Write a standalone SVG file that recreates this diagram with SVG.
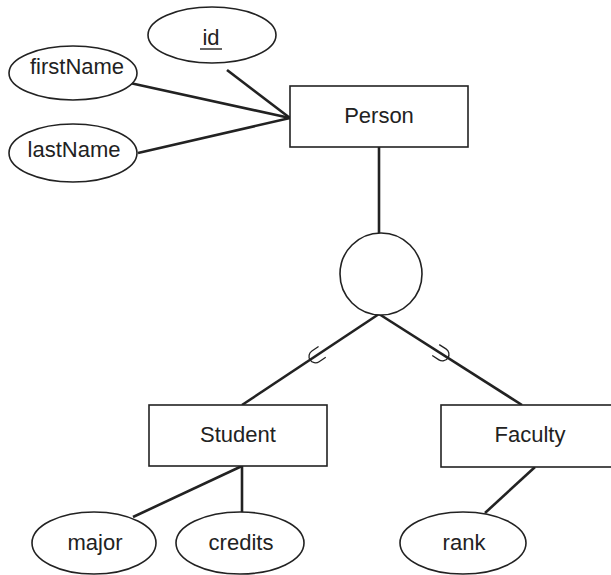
<svg xmlns="http://www.w3.org/2000/svg" width="611" height="575" viewBox="0 0 611 575">
<style>
.shape{fill:#fff;stroke:#222;stroke-width:1.6}
.conn line{stroke:#222;stroke-width:2.6}
.hook{fill:none;stroke:#222;stroke-width:1.3}
text{font-family:"Liberation Sans",Arial,sans-serif;font-size:22px;fill:#222;text-anchor:middle}
</style>
<rect width="611" height="575" fill="#fff"/>
<g id="connectors" class="conn">
<line x1="227" y1="70" x2="290" y2="118"/>
<line x1="130" y1="83" x2="290" y2="118"/>
<line x1="138" y1="153" x2="290" y2="118"/>
<line x1="379" y1="147" x2="379" y2="233"/>
<line x1="379" y1="314" x2="242" y2="405"/>
<line x1="379" y1="314" x2="522" y2="405"/>
<line x1="242" y1="466" x2="242" y2="512"/>
<line x1="242" y1="466" x2="133" y2="517"/>
<line x1="535" y1="467" x2="485" y2="513"/>
<path class="hook" d="M11,-6.5 H3 A6.5,6.5 0 0 0 3,6.5 H11" transform="translate(313,358) rotate(-33.6)"/>
<path class="hook" d="M11,-6.5 H3 A6.5,6.5 0 0 0 3,6.5 H11" transform="translate(445,356) rotate(212.5)"/>
</g>
<g id="id"><ellipse class="shape" cx="212" cy="35" rx="64" ry="28"/><text x="211" y="45">id</text><line x1="200" y1="49" x2="222" y2="49" stroke="#222" stroke-width="1.4"/></g>
<g id="firstName"><ellipse class="shape" cx="73" cy="73" rx="64" ry="27"/><text x="77" y="74">firstName</text></g>
<g id="lastName"><ellipse class="shape" cx="73" cy="153" rx="64" ry="29"/><text x="74" y="157">lastName</text></g>
<g id="Person"><rect class="shape" x="290" y="86" width="178" height="61"/><text x="379" y="123">Person</text></g>
<g id="isa"><circle class="shape" cx="381" cy="274" r="41"/></g>
<g id="Student"><rect class="shape" x="149" y="405" width="178" height="61"/><text x="238" y="442">Student</text></g>
<g id="Faculty"><rect class="shape" x="441" y="405" width="178" height="62"/><text x="530" y="442">Faculty</text></g>
<g id="major"><ellipse class="shape" cx="94" cy="543" rx="62" ry="31"/><text x="95" y="550">major</text></g>
<g id="credits"><ellipse class="shape" cx="240" cy="543" rx="64" ry="31"/><text x="241" y="550">credits</text></g>
<g id="rank"><ellipse class="shape" cx="463" cy="543" rx="63" ry="31"/><text x="464" y="550">rank</text></g>
</svg>
